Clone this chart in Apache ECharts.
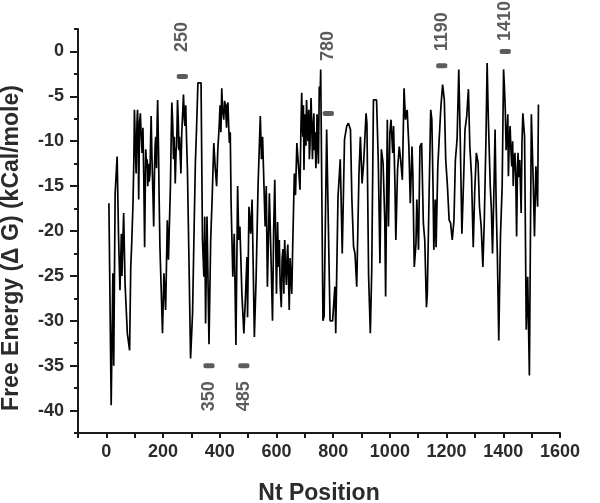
<!DOCTYPE html>
<html>
<head>
<meta charset="utf-8">
<script src="https://cdn.jsdelivr.net/npm/echarts@6/dist/echarts.min.js"></script>
<style>
  html, body { margin: 0; padding: 0; background: #fff; }
  #main { width: 600px; height: 503px; }
</style>
</head>
<body>
<div id="main"></div>
<script>
// free energy profile (nt position / kCal per mole)
var ntPos = [
  9, 17, 23, 26, 31, 38, 43, 48, 53, 55, 61, 66, 74, 82, 86, 89,
  94, 97, 99, 102, 105, 108, 110, 112, 114, 117, 120, 123, 126, 129, 132, 135, 137, 139, 142, 144,
  146, 149, 151, 154, 156, 158, 161, 164, 167, 170, 172, 174, 177, 179, 181, 184, 186, 189,
  198, 203, 209, 215, 219,
  226, 229, 231, 234, 237, 240, 243, 246, 248, 251, 254, 256, 258, 261, 263, 266, 269, 272, 275, 277, 280, 283, 286,
  291, 297, 304, 309, 314, 318, 323, 334, 339, 344, 347, 350, 355, 362, 368, 373, 379, 384, 389, 393,
  398, 401, 404, 407, 410, 414, 417, 420, 424, 426, 429, 431, 434, 437, 440,
  446, 451, 457, 463, 467, 471, 478, 485, 491, 496, 498, 503, 509, 514, 518, 522, 528, 535, 543, 547,
  551, 560, 564, 568, 575, 580, 586, 590, 594,
  600, 604, 607, 610, 613, 617, 620, 623, 626, 629, 632, 635, 638, 640, 643, 645, 648, 651, 654, 657,
  663, 667, 672, 677,
  683, 686, 689, 691, 693, 695, 697, 699, 701, 704, 706, 709, 711, 714, 716, 718, 720, 722, 725, 727,
  730, 732, 734, 736, 739, 741, 743, 745, 748, 751, 754, 756,
  764, 768, 777, 783, 789, 798, 806, 809, 817, 825, 832, 840, 848, 854, 861,
  866, 872, 877, 883, 891, 896, 902, 908, 916, 919, 925, 931, 936, 942, 953, 959, 965, 970, 976, 982,
  985, 991, 995, 1000, 1004, 1010, 1013, 1018, 1021, 1027, 1033, 1038, 1044, 1050, 1055, 1061, 1067, 1072, 1078, 1081,
  1086, 1092, 1095, 1101, 1106, 1112, 1118, 1123, 1129, 1132, 1138, 1144, 1148, 1152, 1155, 1160, 1163, 1169, 1175, 1180,
  1186, 1192, 1197, 1203, 1209, 1214, 1220, 1226, 1231, 1237, 1243, 1248, 1254, 1260, 1265, 1271, 1277, 1282, 1288, 1294,
  1299, 1305, 1311, 1316, 1322, 1328, 1333, 1339, 1343, 1347, 1354, 1358, 1362, 1368, 1371, 1375, 1379, 1384, 1390, 1396,
  1401, 1404, 1407, 1410, 1413, 1416, 1418, 1421, 1424, 1427, 1430, 1433, 1435, 1438, 1441, 1444, 1447, 1450, 1452, 1455,
  1458, 1461, 1463, 1466, 1469,
  1475, 1481, 1486, 1492, 1499, 1506, 1510, 1515, 1521, 1524
];
var dG = [
  -16.9, -39.4, -24.7, -35, -15.8, -11.7, -20.6, -26.6, -20.3, -25, -18, -25.9, -31.4, -33.3, -24, -21.8,
  -16.9, -12, -6.5, -10, -13.6, -8, -6.5, -9, -16.5, -8, -6.9, -9.5, -11.3, -8.5, -14, -21.8, -16, -10.9, -13, -12,
  -15, -12.5, -14.5, -13.6, -10, -7.2, -12, -15.5, -19.5, -13, -10.5, -9.5, -13, -8, -5.4, -11, -16, -21.8,
  -31.4, -24.7, -28.8, -18.8, -23.2,
  -15, -9, -5.7, -8, -12, -9.5, -14.7, -11, -10.6, -5.4, -8, -11, -9.5, -12, -13.6, -9, -7, -4.8, -7.5, -8.3, -6, -10, -13.2,
  -22.5, -34.2, -29.2, -20.6, -12.4, -8.7, -3.5, -3.5, -21, -25.1, -18.4, -30.3, -18.4, -32.6, -21, -16.5, -10.2, -13, -15, -11,
  -8.3, -6, -9, -4.1, -6.5, -7.6, -5.5, -6, -8.5, -6, -5.7, -8, -10.2, -9, -16.9,
  -25.1, -20.3, -32.7, -15, -21, -19.5, -27, -31.4, -27, -22.9, -29.6, -17.3, -20.3, -16.5, -24, -31.8, -25.5, -15, -7.2, -12,
  -9.5, -19.5, -15, -26.2, -15.8, -22, -30, -20, -14.3,
  -27, -19, -24, -21, -26, -28.5, -23, -22, -27, -21, -24, -26, -22.5, -21.5, -26, -28.8, -23, -25.1, -27, -22.1,
  -13.6, -16, -10.2, -12.5,
  -15.4, -9, -4.6, -8, -9.5, -6, -13.2, -9, -7, -10.5, -5.4, -8, -10, -6.5, -12, -10.6, -7.5, -5.2, -9, -12,
  -8, -6.9, -11, -9, -13, -11.3, -7, -8, -12.5, -3.9, -5, -2,
  -30, -29.5, -8.7, -8.7, -30, -30, -26.2, -31.4, -16.2, -12, -22.5, -9.8, -8.3, -8, -8.7,
  -16.5, -21.8, -22.5, -26.2, -13.6, -9.5, -14.7, -12.1, -6.9, -8, -25.1, -31.4, -24.4, -5.4, -5.4, -12.1, -23.6, -10.9, -12.4, -18.8,
  -27.3, -7.6, -19.5, -9.1, -7.6, -11.3, -8.3, -15, -21, -13.2, -10.6, -12.1, -14.3, -4.1, -7.6, -6.5, -10.6, -16.9, -10.6, -13.6,
  -24, -21.4, -16.5, -22.1, -10.6, -10.2, -19.1, -21, -28.5, -27, -16.5, -6.5, -7.6, -14.7, -22.1, -16.5, -21.8, -12.8, -9.1, -6.1,
  -3.7, -5.4, -12.1, -15, -18.8, -19.1, -21, -18.8, -12.1, -9.8, -2, -9.5, -20.3, -14.3, -8.7, -7.2, -4.2, -10.6, -13.9, -21.8,
  -15.8, -11.3, -12.4, -17.3, -19.5, -24, -18.8, -9.5, -1.3, -7.2, -15, -17.6, -22.5, -13.9, -8.7, -17.3, -22.5, -32.2, -20.6, -15,
  -2, -4, -6.5, -11, -9.5, -7, -13.9, -10, -8.3, -11, -12.8, -10, -15, -12, -11.3, -14, -20.6, -13, -11.3, -14,
  -12.1, -15.5, -18, -10, -6.9,
  -9.5, -31, -25.1, -36.1, -7, -15, -20.6, -12.8, -17.3, -5.9
];

// marked sites
var markNt = [268, 362, 485, 783, 1183, 1407];
var markDG = [-2.8, -35, -35, -6.9, -1.6, 0];
var markText = ['250', '350', '485', '780', '1190', '1410'];
var markTextDG = [1.6, -38.4, -38.4, 0.6, 2.2, 3.4];

// axis ticks
var xLabels = [0, 200, 400, 600, 800, 1000, 1200, 1400, 1600];
var xTicks = [-100, 0, 100, 200, 300, 400, 500, 600, 700, 800, 900, 1000, 1100, 1200, 1300, 1400, 1500, 1600];
var yLabels = [-40, -35, -30, -25, -20, -15, -10, -5, 0];
var yMinor = [-42.5, -37.5, -32.5, -27.5, -22.5, -17.5, -12.5, -7.5, -2.5, 2.5];

var lineData = ntPos.map(function (x, i) { return [x, dG[i]]; });
var markData = markNt.map(function (x, i) { return [x, markDG[i]]; });
var textData = markNt.map(function (x, i) {
  return { value: [x, markTextDG[i]], name: markText[i] };
});

var axisColor = '#1a1a1a';
var textColor = '#2b2b2b';
var font = 'Liberation Sans, Arial, sans-serif';

var chart = echarts.init(document.getElementById('main'));
var option = {
  animation: false,
  backgroundColor: '#fff',
  grid: { left: 78, right: 40, top: 29, bottom: 70, containLabel: false, outerBoundsMode: 'none' },
  xAxis: {
    type: 'value',
    min: -100,
    max: 1600,
    name: 'Nt Position',
    nameLocation: 'middle',
    nameGap: 49,
    nameTextStyle: { fontSize: 23, fontWeight: 'bold', color: textColor, fontFamily: font },
    axisLine: { onZero: false, lineStyle: { color: axisColor, width: 2 } },
    axisTick: { customValues: xTicks, length: 5, lineStyle: { color: axisColor, width: 2 } },
    axisLabel: {
      customValues: xLabels, margin: 10, fontSize: 18, fontWeight: 'bold', color: textColor, fontFamily: font,
      formatter: function (v) { return String(v); }
    },
    splitLine: { show: false }
  },
  yAxis: [
    {
      type: 'value',
      min: -42.5,
      max: 2.5,
      name: 'Free Energy (\u0394 G) (kCal/mole)',
      nameLocation: 'middle',
      nameGap: 55,
      nameTextStyle: { fontSize: 23, fontWeight: 'bold', color: textColor, fontFamily: font, padding: [0, 34, 0, 0] },
      axisLine: { onZero: false, lineStyle: { color: axisColor, width: 2 } },
      axisTick: { customValues: yLabels, length: 8, lineStyle: { color: axisColor, width: 2 } },
      axisLabel: {
        customValues: yLabels, margin: 14, fontSize: 18, fontWeight: 'bold', color: textColor, fontFamily: font,
        formatter: function (v) { return String(v); }
      },
      splitLine: { show: false }
    },
    {
      type: 'value',
      min: -42.5,
      max: 2.5,
      position: 'left',
      axisLine: { show: false, onZero: false },
      axisTick: { customValues: yMinor, length: 4, lineStyle: { color: axisColor, width: 2 } },
      axisLabel: { show: false },
      splitLine: { show: false }
    }
  ],
  series: [
    {
      type: 'line',
      data: lineData,
      showSymbol: false,
      lineStyle: { color: '#000', width: 1.7 },
      z: 3
    },
    {
      type: 'scatter',
      data: markData,
      symbol: 'roundRect',
      symbolSize: [11, 5],
      itemStyle: { color: '#333' },
      clip: false,
      z: 4
    },
    {
      type: 'scatter',
      data: textData,
      symbolSize: 1,
      itemStyle: { color: 'transparent' },
      clip: false,
      label: {
        show: true,
        position: 'inside',
        rotate: 90,
        formatter: '{b}',
        fontSize: 18,
        fontWeight: 'bold',
        color: '#333',
        fontFamily: font
      },
      z: 4
    }
  ]
};
chart.setOption(option);
</script>
</body>
</html>
